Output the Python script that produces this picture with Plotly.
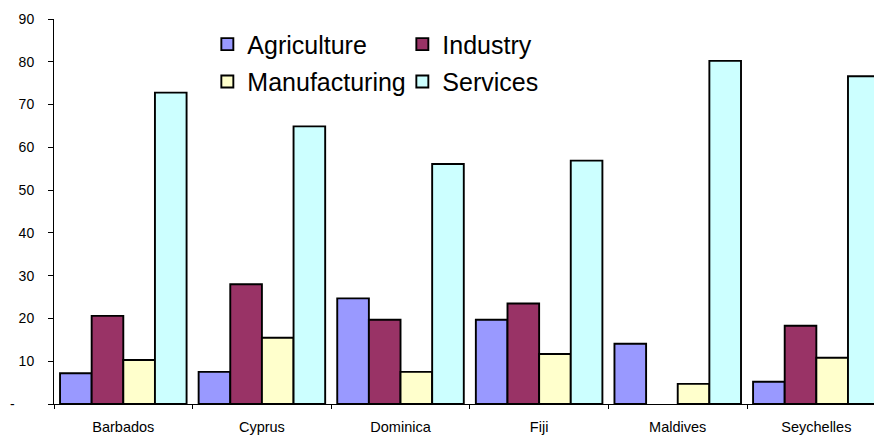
import plotly.graph_objects as go

# Share of GDP by sector (%), small island economies
countries = ["Barbados", "Cyprus", "Dominica", "Fiji", "Maldives", "Seychelles"]
agriculture = [7.2, 7.5, 24.7, 19.7, 14.1, 5.2]
industry = [20.6, 28.0, 19.7, 23.5, None, 18.3]
manufacturing = [10.3, 15.5, 7.5, 11.7, 4.7, 10.8]
services = [72.8, 64.9, 56.1, 56.9, 80.2, 76.6]

y_ticks = [0, 10, 20, 30, 40, 50, 60, 70, 80, 90]
y_tick_text = ["-\u00a0\u00a0\u00a0\u00a0\u00a0"] + [str(v) for v in y_ticks[1:]]

FONT = "Liberation Sans, Arial, sans-serif"

series = [
    ("Agriculture", agriculture, "#9999FF", "legend"),
    ("Industry", industry, "#993366", "legend"),
    ("Manufacturing", manufacturing, "#FFFFCC", "legend2"),
    ("Services", services, "#CCFFFF", "legend2"),
]

fig = go.Figure()
for name, vals, color, leg in series:
    fig.add_trace(go.Bar(
        x=countries, y=vals, name=name,
        marker=dict(color=color, line=dict(color="black", width=1.9)),
        legend=leg,
    ))

legend_common = dict(
    orientation="h",
    xref="paper", yref="paper",
    xanchor="left", yanchor="middle",
    bgcolor="rgba(0,0,0,0)",
    font=dict(family=FONT, size=25, color="black"),
    entrywidth=150, entrywidthmode="pixels",
    itemclick=False, itemdoubleclick=False,
    traceorder="normal",
)

fig.update_layout(
    width=874, height=439,
    margin=dict(l=54, r=0, t=19, b=35),
    paper_bgcolor="white", plot_bgcolor="white",
    barmode="group", bargap=0.087, bargroupgap=0,
    font=dict(family=FONT, color="black"),
    legend=dict(x=0.187, y=0.934, **legend_common),
    legend2=dict(x=0.187, y=0.837, **legend_common),
    xaxis=dict(
        range=[-0.5, 5.416],
        showline=True, linecolor="black", linewidth=1,
        ticks="outside", tickson="boundaries", ticklen=4, tickcolor="black",
        tickfont=dict(size=14.5, family=FONT, color="black"),
        ticklabelstandoff=10,
        showgrid=False, zeroline=False, fixedrange=True,
    ),
    yaxis=dict(
        range=[0, 90],
        tickvals=y_ticks, ticktext=y_tick_text,
        showline=True, linecolor="black", linewidth=1,
        ticks="outside", ticklen=5, tickcolor="black",
        tickfont=dict(size=14, family=FONT, color="black"),
        ticklabelstandoff=11,
        showgrid=False, zeroline=False, fixedrange=True,
    ),
)

fig.write_html("out.html")
